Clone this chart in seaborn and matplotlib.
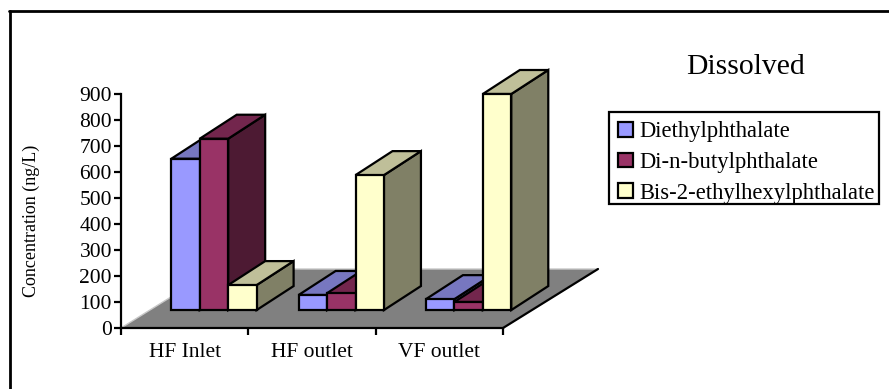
import pandas as pd
import seaborn as sns
import matplotlib.pyplot as plt
from matplotlib.lines import Line2D
from matplotlib.patches import Polygon, Patch, Rectangle

# values
sites = ['HF Inlet', 'HF outlet', 'VF outlet']
diethyl = [582, 58, 42]
dibutyl = [659, 65, 31]
bis2 = [96, 519, 831]
compounds = ['Diethylphthalate', 'Di-n-butylphthalate', 'Bis-2-ethylhexylphthalate']
y_ticks = [0, 100, 200, 300, 400, 500, 600, 700, 800, 900]

front_colors = ['#9999FF', '#993366', '#FFFFCC']
top_colors = ['#7777C0', '#73264D', '#BFBF99']
side_colors = ['#5C5C99', '#4D1A33', '#808066']

rows = []
for name, vals in zip(compounds, [diethyl, dibutyl, bis2]):
    for i, v in enumerate(vals):
        rows.append({'pos': i + 0.23, 'site': sites[i], 'compound': name, 'value': v})
df = pd.DataFrame(rows)

sns.set_theme(style='white')
plt.rcParams['font.family'] = ['Liberation Serif', 'DejaVu Serif']

W, H = 889, 389
fig = plt.figure(figsize=(W / 100, H / 100), dpi=100)
ax = fig.add_axes([121 / W, 1 - 328 / H, 382 / W, 234 / H])

# depth of the floor and of one bar, in data units
base = 69
bar_dx = 37 / (382 / 3)
bar_dy = 24 / 0.26
floor_dx = 95 / (382 / 3)
floor_dy = 59 / 0.26

sns.barplot(data=df, x='pos', y='value', hue='compound', hue_order=compounds,
            palette=front_colors, native_scale=True, width=0.67, gap=0, dodge=True,
            bottom=base, edgecolor='black', linewidth=1.6, saturation=1, legend=False, ax=ax)

ax.set_xlim(-0.5, 2.5)
ax.set_ylim(0, 900)

# floor
floor = [(-0.5, 0), (2.5, 0), (2.5 + floor_dx, floor_dy), (-0.5 + floor_dx, floor_dy)]
ax.add_patch(Polygon(floor, closed=True, facecolor='#808080', edgecolor='#C8C8C8',
                     linewidth=1, clip_on=False, zorder=1))
ax.plot([2.5, 2.5 + floor_dx], [0, floor_dy], color='black', lw=1.6, clip_on=False, zorder=2)

# side and top faces of each bar, taken from the bars seaborn drew
for k, cont in enumerate(ax.containers):
    for bar in cont:
        x0 = bar.get_x()
        x1 = x0 + bar.get_width()
        y0 = bar.get_y()
        y1 = y0 + bar.get_height()
        z = 3 + k
        side = [(x1, y0), (x1 + bar_dx, y0 + bar_dy), (x1 + bar_dx, y1 + bar_dy), (x1, y1)]
        top = [(x0, y1), (x0 + bar_dx, y1 + bar_dy), (x1 + bar_dx, y1 + bar_dy), (x1, y1)]
        ax.add_patch(Polygon(side, closed=True, facecolor=side_colors[k], edgecolor='black',
                             linewidth=1.6, clip_on=False, zorder=z))
        ax.add_patch(Polygon(top, closed=True, facecolor=top_colors[k], edgecolor='black',
                             linewidth=1.6, clip_on=False, zorder=z))
        bar.set_zorder(z + 0.5)
        bar.set_clip_on(False)

# axes
sns.despine(ax=ax, top=True, right=True)
for s in ['left', 'bottom']:
    ax.spines[s].set_color('black')
    ax.spines[s].set_linewidth(1.6)
    ax.spines[s].set_zorder(10)
ax.patch.set_alpha(0)
ax.set_yticks(y_ticks)
ax.set_xticks([-0.5, 0.5, 1.5, 2.5])
ax.set_xticklabels([])
ax.tick_params(axis='y', left=True, length=5, width=1.6, color='black', labelsize=15.5,
               labelcolor='black', pad=1.5)
ax.tick_params(axis='x', bottom=True, length=5, width=1.6, color='black')
ax.set_xlabel('')
ax.set_ylabel('')
for i, s in enumerate(sites):
    ax.text(i, -96, s, ha='center', va='center', fontsize=15.5, color='black')

fig.text(31 / W, 1 - 221 / H, 'Concentration (ng/L)', rotation=90, ha='center', va='center',
         fontsize=13, color='black')
fig.text(745 / W, 1 - 67 / H, 'Dissolved', ha='center', va='center', fontsize=21.3, color='black')

# legend, box drawn apart because its rows sit low in the frame
fig.add_artist(Rectangle((609 / W, 1 - 204 / H), 270 / W, 92 / H, transform=fig.transFigure,
                         facecolor='white', edgecolor='black', linewidth=1.6))
handles = [Patch(facecolor=c, edgecolor='black', linewidth=1.6) for c in front_colors]
leg = fig.legend(handles, compounds, loc='upper left', bbox_to_anchor=(618 / W, 1 - 121.5 / H),
                 frameon=False, fontsize=16.3, labelcolor='black', handlelength=0.66,
                 handleheight=0.6, handletextpad=0.27, labelspacing=0.42, borderpad=0,
                 borderaxespad=0)

# outer frame, only left and top show in the picture
fig.add_artist(Line2D([9.5 / W, 9.5 / W], [0, 1 - 10.5 / H], color='black', lw=2))
fig.add_artist(Line2D([8.5 / W, 1], [1 - 10.5 / H, 1 - 10.5 / H], color='black', lw=2))

plt.savefig('out.png', dpi=100)
